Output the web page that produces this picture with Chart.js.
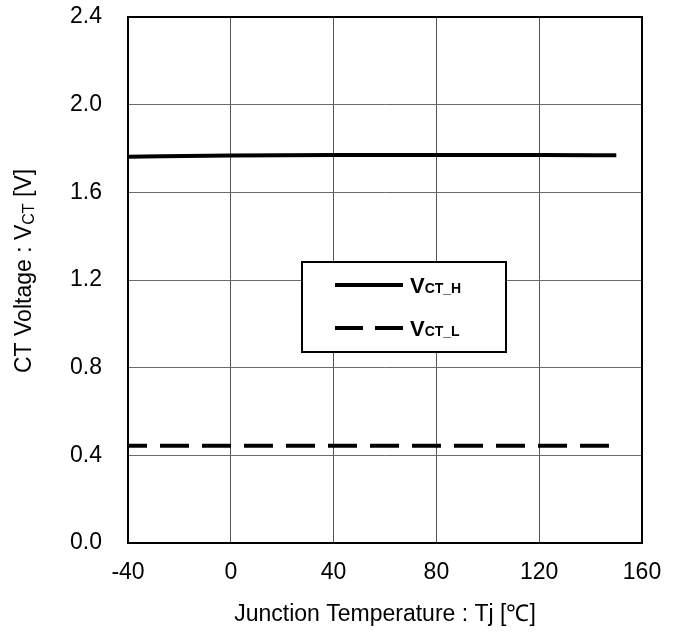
<!DOCTYPE html>
<html>
<head>
<meta charset="utf-8">
<script src="https://cdn.jsdelivr.net/npm/chart.js@4/dist/chart.umd.min.js"></script>
<style>
html,body{margin:0;padding:0;background:#fff;}
#wrap{width:680px;height:637px;position:relative;}
</style>
</head>
<body>
<div id="wrap"><canvas id="c" width="680" height="637"></canvas></div>
<script>
const temps = [-40, 0, 40, 80, 120, 150];
const vctH = [1.762, 1.768, 1.770, 1.770, 1.770, 1.769];
const vctL = [0.444, 0.444, 0.444, 0.444, 0.444, 0.444];
const xTicks = [-40, 0, 40, 80, 120, 160];
const yTicks = [0.0, 0.4, 0.8, 1.2, 1.6, 2.0, 2.4];
const seriesNames = [["V", "CT_H"], ["V", "CT_L"]];
const xTitle = "Junction Temperature : Tj [\u2103]";
const yTitleParts = ["CT Voltage : V", "CT", " [V]"];

const FONT = '"Liberation Sans", Arial, sans-serif';

const overlay = {
  id: 'overlay',
  afterDraw(chart) {
    const ctx = chart.ctx;
    const a = chart.chartArea;
    ctx.save();
    // frame
    ctx.strokeStyle = '#000';
    ctx.lineWidth = 2;
    ctx.strokeRect(a.left, a.top, a.right - a.left, a.bottom - a.top);

    // legend box
    const bx = 302, by = 262, bw = 204, bh = 90;
    ctx.fillStyle = '#fff';
    ctx.fillRect(bx, by, bw, bh);
    ctx.lineWidth = 2;
    ctx.strokeRect(bx, by, bw, bh);
    const rows = [285, 328];
    rows.forEach((ry, i) => {
      ctx.beginPath();
      ctx.lineWidth = 4;
      ctx.strokeStyle = '#000';
      ctx.setLineDash(i === 0 ? [] : [28, 12]);
      ctx.moveTo(335, ry);
      ctx.lineTo(403, ry);
      ctx.stroke();
      ctx.setLineDash([]);
      ctx.fillStyle = '#000';
      ctx.textBaseline = 'alphabetic';
      ctx.textAlign = 'left';
      ctx.font = 'bold 22px ' + FONT;
      ctx.fillText(seriesNames[i][0], 410, ry + 8);
      const w = ctx.measureText(seriesNames[i][0]).width;
      ctx.font = 'bold 14px ' + FONT;
      ctx.fillText(seriesNames[i][1], 410 + w, ry + 8);
    });

    // x title
    ctx.fillStyle = '#000';
    ctx.font = '23px ' + FONT;
    ctx.textAlign = 'center';
    ctx.textBaseline = 'middle';
    ctx.fillText(xTitle, (a.left + a.right) / 2, 615);

    // y title
    ctx.textAlign = 'left';
    ctx.translate(25, 373);
    ctx.rotate(-Math.PI / 2);
    ctx.textBaseline = 'middle';
    ctx.font = '23px ' + FONT;
    let x = 0;
    ctx.fillText(yTitleParts[0], x, 0);
    x += ctx.measureText(yTitleParts[0]).width;
    ctx.font = '16px ' + FONT;
    ctx.fillText(yTitleParts[1], x, 5);
    x += ctx.measureText(yTitleParts[1]).width;
    ctx.font = '23px ' + FONT;
    ctx.fillText(yTitleParts[2], x, 0);
    ctx.restore();
  }
};

new Chart(document.getElementById('c'), {
  type: 'line',
  data: {
    datasets: [
      {
        label: 'VCT_H',
        data: temps.map((t, i) => ({x: t, y: vctH[i]})),
        borderColor: '#000',
        borderWidth: 4,
        pointRadius: 0,
        cubicInterpolationMode: 'monotone',
        fill: false
      },
      {
        label: 'VCT_L',
        data: temps.map((t, i) => ({x: t, y: vctL[i]})),
        borderColor: '#000',
        borderWidth: 4,
        borderDash: [29, 13],
        borderDashOffset: 10,
        pointRadius: 0,
        fill: false
      }
    ]
  },
  options: {
    responsive: false,
    animation: false,
    layout: {padding: {top: 17, right: 38, bottom: 0, left: 0}},
    plugins: {legend: {display: false}, tooltip: {enabled: false}},
    scales: {
      x: {
        type: 'linear',
        min: -40, max: 160,
        afterBuildTicks(s) { s.ticks = xTicks.map(v => ({value: v})); },
        afterFit(s) { s.height = 94; },
        ticks: {color: '#000', font: {size: 23, family: FONT}, padding: 16,
          callback: v => String(v), maxRotation: 0, autoSkip: false},
        grid: {color: '#555', lineWidth: 1, drawTicks: false},
        border: {color: '#000', width: 2}
      },
      y: {
        min: 0, max: 2.4,
        afterBuildTicks(s) { s.ticks = yTicks.map(v => ({value: v})); },
        afterFit(s) { s.width = 128; },
        ticks: {color: '#000', font: {size: 23, family: FONT}, padding: 0,
          callback: v => Number(v).toFixed(1), autoSkip: false},
        grid: {color: '#6a6a6a', lineWidth: 1, drawTicks: true, tickLength: 26,
          tickColor: 'rgba(0,0,0,0)'},
        border: {color: '#000', width: 2}
      }
    }
  },
  plugins: [overlay]
});
</script>
</body>
</html>
